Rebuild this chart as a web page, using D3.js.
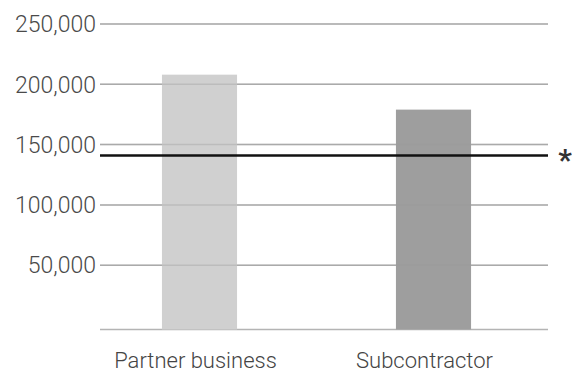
<!DOCTYPE html>
<html>
<head>
<meta charset="utf-8">
<script src="https://cdn.jsdelivr.net/npm/d3@7"></script>
<style>
  html, body { margin: 0; padding: 0; background: #fff; overflow: hidden; }
  svg { display: block; }
  text { font-family: Roboto, "Noto Sans", sans-serif; }
</style>
</head>
<body>
<svg id="chart" width="572" height="375"></svg>
<script>
const categories = ["Partner business", "Subcontractor"];
const values = [208000, 179000];
const barColors = ["#d0d0d0", "#9e9e9e"];
const referenceValue = 141000;
const referenceLabel = "*";
const yTicks = [50000, 100000, 150000, 200000, 250000];

const svg = d3.select("#chart");
const left = 100, right = 548;

const y = d3.scaleLinear().domain([0, 250000]).range([325.5, 24]);
const x = d3.scaleBand().domain(categories)
  .range([82.5, 550.5]).paddingInner(0.679).paddingOuter(0.3395);

const fmt = d3.format(",");
const labelShift = [-4, -9];

// gridlines
svg.append("g").selectAll("line").data(yTicks).join("line")
  .attr("x1", left).attr("x2", right)
  .attr("y1", d => y(d)).attr("y2", d => y(d))
  .attr("stroke", "#b4b4b4").attr("stroke-width", 1.5);

// baseline
svg.append("line")
  .attr("x1", left).attr("x2", right)
  .attr("y1", y(0) + 4).attr("y2", y(0) + 4)
  .attr("stroke", "#b4b4b4").attr("stroke-width", 1.5);

// bars
svg.append("g").selectAll("rect").data(categories).join("rect")
  .attr("x", d => x(d))
  .attr("width", x.bandwidth())
  .attr("y", (d, i) => y(values[i]))
  .attr("height", (d, i) => y(0) + 4 - y(values[i]))
  .attr("fill", (d, i) => barColors[i]);

// gridlines over bars (subtle)
svg.append("g").selectAll("line").data(yTicks).join("line")
  .attr("x1", left).attr("x2", right)
  .attr("y1", d => y(d)).attr("y2", d => y(d))
  .attr("stroke", "#999").attr("stroke-opacity", 0.35).attr("stroke-width", 1.5);

// y tick labels
svg.append("g").selectAll("text").data(yTicks).join("text")
  .attr("x", 96).attr("y", d => y(d))
  .attr("dy", "0.36em")
  .attr("text-anchor", "end")
  .attr("font-size", 23)
  .attr("font-weight", 300)
  .attr("fill", "#4a4a4a")
  .text(d => fmt(d));

// reference line
svg.append("line")
  .attr("x1", left).attr("x2", right)
  .attr("y1", y(referenceValue)).attr("y2", y(referenceValue))
  .attr("stroke", "#111").attr("stroke-width", 2.5);

svg.append("text")
  .attr("x", 565).attr("y", y(referenceValue) + 15)
  .attr("text-anchor", "middle")
  .attr("font-size", 30)
  .attr("font-weight", 700)
  .attr("fill", "#333")
  .text(referenceLabel);

// x labels
svg.append("g").selectAll("text").data(categories).join("text")
  .attr("x", (d, i) => x(d) + x.bandwidth() / 2 + labelShift[i])
  .attr("y", 368)
  .attr("text-anchor", "middle")
  .attr("font-size", 22)
  .attr("font-weight", 300)
  .attr("fill", "#444")
  .text(d => d);
</script>
</body>
</html>
